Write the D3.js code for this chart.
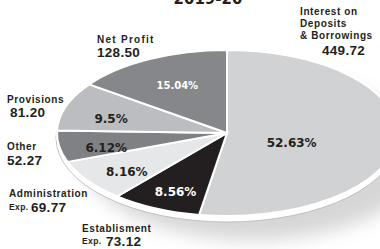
<!DOCTYPE html>
<html>
<head>
    <title>Expenditure 2019-20</title>
    <script src="https://cdn.jsdelivr.net/npm/d3@7"></script>
    <style>
        body { margin: 0; background: #fff; }
        svg { display: block; }
    </style>
</head>
<body>
    <div id="chart"></div>
    <script type="text/javascript">
        var title = "2019-20";
        var categories = ["Interest on Deposits & Borrowings", "Establisment Exp.", "Administration Exp.", "Other", "Provisions", "Net Profit"];
        var values = [449.72, 73.12, 69.77, 52.27, 81.20, 128.50];
        var valueLabels = ["449.72", "73.12", "69.77", "52.27", "81.20", "128.50"];
        var percentLabels = ["52.63%", "8.56%", "8.16%", "6.12%", "9.5%", "15.04%"];

        var width = 380;
        var height = 249;
        var cx = 227, cy = 133;
        var rx = 170, ry = 83;

        var colors = d3.scaleOrdinal()
            .domain(categories)
            .range(["#d1d2d4", "#231f20", "#e6e7e8", "#7f8184", "#bcbdc0", "#85878a"]);
        var textColors = ["#231f20", "#fff", "#231f20", "#231f20", "#231f20", "#fff"];

        var svg = d3.select("#chart").append("svg")
            .attr("width", width)
            .attr("height", height);

        var defs = svg.append("defs");
        defs.append("filter").attr("id", "blur")
            .attr("x", "-30%").attr("y", "-30%").attr("width", "160%").attr("height", "160%")
            .append("feGaussianBlur").attr("stdDeviation", 9);

        // title, mostly cut off at the top (as in the scan)
        svg.append("text")
            .attr("x", 208).attr("y", 4)
            .attr("text-anchor", "middle")
            .style("font", "bold 15px 'DejaVu Sans'")
            .style("fill", "#231f20")
            .text(title);

        // soft shadow + white rim under the pie
        svg.append("ellipse")
            .attr("cx", cx + 26).attr("cy", cy + 24)
            .attr("rx", rx).attr("ry", ry)
            .attr("fill", "#9a9a9a")
            .attr("opacity", 0.4)
            .attr("filter", "url(#blur)");
        svg.append("ellipse")
            .attr("cx", cx).attr("cy", cy + 5)
            .attr("rx", rx + 1).attr("ry", ry + 1)
            .attr("fill", "#fff")
            .attr("stroke", "#b5b5b5")
            .attr("stroke-width", 0.8);

        var pie = d3.pie().sort(null).value(function(d) { return d; });
        var arcs = pie(values);

        var arc = d3.arc().innerRadius(0).outerRadius(rx);

        var g = svg.append("g")
            .attr("transform", "translate(" + cx + "," + cy + ") scale(1," + (ry / rx) + ")");

        g.selectAll("path")
            .data(arcs)
            .enter().append("path")
                .attr("d", arc)
                .attr("fill", function(d, i) { return colors(categories[i]); })
                .attr("stroke", "#fff")
                .attr("stroke-width", 2)
                .attr("vector-effect", "non-scaling-stroke");

        // percent labels at a scaled centroid
        var labelArc = d3.arc().innerRadius(rx * 0.72).outerRadius(rx * 0.72);
        svg.append("g").selectAll("text")
            .data(arcs)
            .enter().append("text")
                .attr("x", function(d, i) {
                    var c = labelArc.centroid(d);
                    return cx + (i == 0 ? c[0] * 0.53 : c[0]) + (i == 5 ? 6 : 0);
                })
                .attr("y", function(d, i) {
                    var c = labelArc.centroid(d);
                    return cy + c[1] * ry / rx + 9;
                })
                .attr("text-anchor", "middle")
                .style("font", function(d, i) { return i == 5 ? "bold 10px 'DejaVu Sans'" : "bold 12px 'DejaVu Sans'"; })
                .style("fill", function(d, i) { return textColors[i]; })
                .text(function(d, i) { return percentLabels[i]; });

        // outside category labels
        var nameFont = "bold 10px 'Liberation Sans'";
        var valueFont = "bold 13.5px 'Liberation Sans'";
        var outer = [
            { lines: ["Interest on", "Deposits", "& Borrowings"], x: 300, y: 15, vx: 322, vy: 55 },
            { lines: ["Establisment"], x: 82, y: 232, exp: true, vx: 106, vy: 246 },
            { lines: ["Administration"], x: 9, y: 197, exp: true, vx: 31, vy: 212 },
            { lines: ["Other"], x: 7, y: 150, vx: 7, vy: 165 },
            { lines: ["Provisions"], x: 7, y: 103, vx: 10, vy: 117 },
            { lines: ["Net Profit"], x: 97, y: 43, vx: 97, vy: 57, wide: 57 }
        ];

        var lg = svg.append("g").style("fill", "#231f20");
        outer.forEach(function(o, i) {
            o.lines.forEach(function(line, j) {
                var t = lg.append("text")
                    .attr("x", o.x).attr("y", o.y + j * 12)
                    .style("font", nameFont)
                    .style("letter-spacing", "0.6px")
                    .text(line);
                if (o.wide) t.attr("textLength", o.wide).attr("lengthAdjust", "spacing");
            });
            if (o.exp) {
                lg.append("text")
                    .attr("x", o.x).attr("y", o.vy - 2)
                    .style("font", "bold 8.5px 'Liberation Sans'")
                    .style("letter-spacing", "0.4px")
                    .text("Exp.");
            }
            lg.append("text")
                .attr("x", o.vx).attr("y", o.vy)
                .style("font", valueFont)
                .style("letter-spacing", "0.3px")
                .text(valueLabels[i]);
        });
    </script>
</body>
</html>
